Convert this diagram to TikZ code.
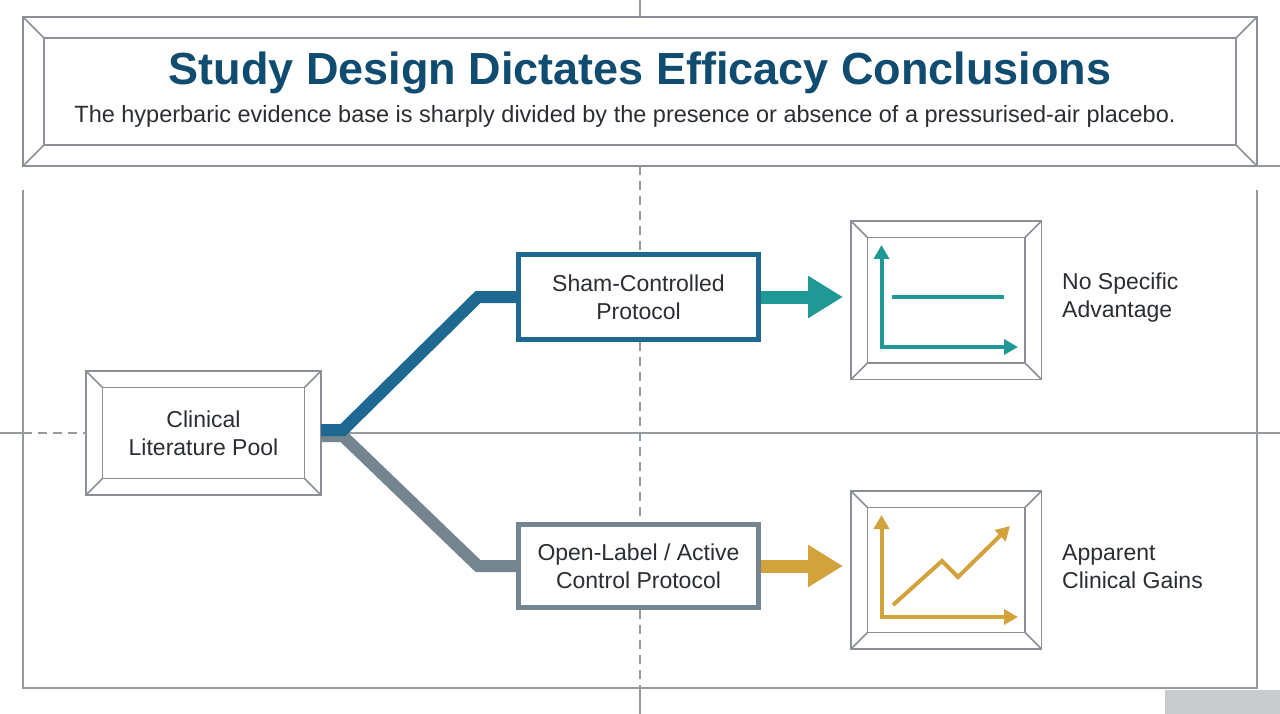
\documentclass[tikz,border=0pt]{standalone}
\usepackage{fontspec}
\setmainfont{Liberation Sans}
\usetikzlibrary{arrows.meta,calc}
\definecolor{framegray}{HTML}{8A9095}
\definecolor{gridgray}{HTML}{969BA0}
\definecolor{titleblue}{HTML}{0F4C70}
\definecolor{textdark}{HTML}{2A2E33}
\definecolor{shamblue}{HTML}{1F6892}
\definecolor{opengray}{HTML}{74858F}
\definecolor{tealc}{HTML}{1F9896}
\definecolor{goldc}{HTML}{D2A33C}
\definecolor{blockgray}{HTML}{C9CCCF}
\tikzset{
  gridline/.style={gridgray,line width=1.3pt},
  griddash/.style={gridline,dash pattern=on 9pt off 6pt},
  bevelbox/.style={draw=framegray,line width=1.5pt,fill=white,inner sep=0pt,outer sep=0pt},
  bevelin/.style={draw=framegray,line width=1.5pt},
  bodytext/.style={font=\fontsize{23}{28}\selectfont,text=textdark},
  protobox/.style={bodytext,line width=5pt,fill=white,inner sep=0pt,align=center},
  branch/.style={line width=12pt,line join=miter},
  bigarrow/.style={line width=13pt,-{Triangle[length=35pt,width=40pt]}},
  axistip/.style={line width=4pt,line join=miter,{Triangle[length=14pt,width=15pt]}-{Triangle[length=14pt,width=15pt]}},
}
\newcommand\bevelframe[2]{%
  \draw[bevelin] ($(#1.north west)+(#2,-#2)$) rectangle ($(#1.south east)+(-#2,#2)$);
  \draw[bevelin] (#1.north west) -- ($(#1.north west)+(#2,-#2)$);
  \draw[bevelin] (#1.north east) -- ($(#1.north east)+(-#2,-#2)$);
  \draw[bevelin] (#1.south west) -- ($(#1.south west)+(#2,#2)$);
  \draw[bevelin] (#1.south east) -- ($(#1.south east)+(-#2,#2)$);
}
\begin{document}
\begin{tikzpicture}[x=1pt,y=-1pt]
\useasboundingbox (0,0) rectangle (1280,714);
\fill[white] (0,0) rectangle (1280,714);
\fill[blockgray] (1165,690) rectangle (1280,714);

% nodes
\node[bevelbox,minimum width=1234pt,minimum height=149pt] (title) at (640,91.5) {};
\node[bevelbox,bodytext,align=center,minimum width=235pt,minimum height=124pt] (clin) at (203.5,433) {Clinical\\Literature Pool};
\node[protobox,draw=shamblue,minimum width=240pt,minimum height=85pt] (sham) at (638.5,297) {Sham-Controlled\\Protocol};
\node[protobox,draw=opengray,minimum width=240pt,minimum height=83pt] (open) at (638.5,566) {Open-Label / Active\\Control Protocol};
\node[bevelbox,minimum width=190.5pt,minimum height=158.5pt] (chartA) at (946.25,300.25) {};
\node[bevelbox,minimum width=190.5pt,minimum height=158pt] (chartB) at (946.25,570) {};
\bevelframe{title}{21pt}
\bevelframe{clin}{16.5pt}
\bevelframe{chartA}{16.5pt}
\bevelframe{chartB}{16.5pt}

% grid
\draw[gridline] (640,0) -- (title.north);
\draw[griddash] (title.south) -- (title.south |- sham.north);
\draw[griddash] (title.south |- sham.south) -- (title.south |- open.north);
\draw[griddash] (title.south |- open.south) -- (640,688);
\draw[gridline] (640,688) -- (640,714);
\draw[gridline] (0,433) -- (23,433);
\draw[griddash] (23,433) -- (clin.west);
\draw[gridline] (clin.east) -- (1280,433);
\draw[gridline] (title.south east) -- (1280,166);
\draw[gridline] (23,190) -- (23,688) -- (1257,688) -- (1257,190);

% title texts
\node[font=\bfseries\fontsize{45}{54}\selectfont,text=titleblue,anchor=base] (ttl) at (640,85) {Study Design Dictates Efficacy Conclusions};
\node[font=\fontsize{23.5}{28}\selectfont,text=textdark,anchor=base] (sub) at (625,123) {The hyperbaric evidence base is sharply divided by the presence or absence of a pressurised-air placebo.};

% branches
\draw[branch,opengray] ([yshift=-3pt]clin.east) -- ++(22,0) -- ([xshift=-38pt]open.west) -- (open.west);
\draw[branch,shamblue] ([yshift=3pt]clin.east) -- ++(22,0) -- ([xshift=-38pt]sham.west) -- (sham.west);

% result arrows
\draw[bigarrow,tealc,shorten >=8pt] (sham.east) -- (sham.east -| chartA.west);
\draw[bigarrow,goldc,shorten >=8pt] (open.east) -- (open.east -| chartB.west);

% chart icons
\draw[axistip,tealc] (881.5,245) -- (881.5,347) -- (1018,347);
\draw[tealc,line width=4pt] (892,297) -- (1004,297);
\draw[axistip,goldc] (881.5,515) -- (881.5,617) -- (1018,617);
\draw[goldc,line width=4pt,line join=miter,-{Triangle[length=14pt,width=15pt]}] (893,605) -- (942,561) -- (958,577) -- (1010,526);

% labels
\node[bodytext,align=left,anchor=west,inner sep=0pt] (labA) at (1062,298) {No Specific\\Advantage};
\node[bodytext,align=left,anchor=west,inner sep=0pt] (labB) at (1062,567) {Apparent\\Clinical Gains};
\end{tikzpicture}
\end{document}
